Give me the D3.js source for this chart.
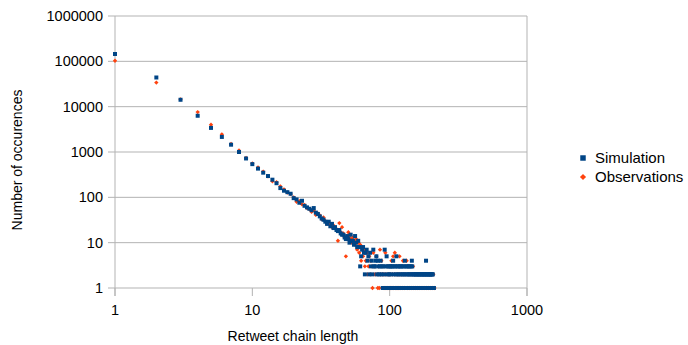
<!DOCTYPE html>
<html>
<head>
<meta charset="utf-8">
<script src="https://cdn.jsdelivr.net/npm/d3@7/dist/d3.min.js"></script>
<style>
  body { margin: 0; background: #fff; }
  svg text { font-family: "Liberation Sans", Arial, sans-serif; fill: #000; }
</style>
</head>
<body>
<svg id="chart" width="688" height="345"></svg>
<script>
// chain length -> number of occurences
const simLen = [
  1,2,3,4,5,6,7,8,9,10,11,12,13,14,15,16,17,18,19,20,
  21,22,23,24,25,26,27,28,29,30,31,32,33,34,35,36,37,38,39,40,
  41,42,43,44,45,46,47,48,49,50,51,52,53,54,55,56,57,58,59,60,
  61,62,63,64,65,66,67,68,69,70,71,72,73,74,75,76,77,78,79,80,
  81,82,83,84,85,86,87,88,89,90,91,92,93,94,95,96,97,98,99,100,
  101,102,103,104,105,106,107,108,109,110,111,112,113,114,115,116,117,118,119,120,
  121,122,123,124,125,126,127,128,129,130,131,132,133,134,135,136,137,138,139,140,
  141,142,143,144,145,146,147,148,149,150,151,152,153,154,155,156,157,158,159,160,
  161,162,163,164,165,166,167,168,169,170,171,172,173,174,175,176,177,178,179,180,
  181,182,183,184,185,186,187,188,189,190,191,192,193,194,195,196,197,198,199,200,
  201,202,203,204,205,206,207,208,210
];
const simCount = [
  145000,44000,14200,6300,3400,2150,1450,1000,720,540,430,350,295,245,205,160,140,130,120,96,
  90,76,84,65,60,56,52,58,46,43,38,34,32,29,26,29,23,26,21,22,
  19,18,19,16,15,15,13,12,14,12,10,15,11,11,9,14,10,8,11,8,
  3,5,7,8,6,2,6,7,4,5,2,6,3,4,2,7,3,3,4,5,
  2,4,3,2,3,4,2,3,1,3,2,7,1,3,5,2,3,1,2,3,
  3,2,3,1,3,4,2,3,1,3,2,5,1,3,2,3,1,2,3,1,
  3,2,1,3,2,1,3,2,4,1,3,2,1,3,2,1,3,2,1,3,
  2,1,3,2,4,3,1,2,1,2,1,2,1,1,2,1,2,1,2,1,
  1,2,1,2,1,2,1,1,2,1,2,1,2,1,1,2,1,2,1,2,
  1,2,1,4,2,1,2,1,1,2,1,2,1,2,1,1,2,1,2,1,
  2,1,1,2,1,2,1,1,1
];

const obsLen = [
  1,2,3,4,5,6,7,8,9,10,11,12,13,14,15,16,17,18,19,20,
  21,22,23,24,25,26,27,28,29,30,31,32,33,34,35,36,37,38,39,40,
  41,42,43,44,45,46,47,48,49,50,51,52,53,54,55,56,57,58,59,60,
  61,62,63,64,65,66,67,68,69,70,71,72,73,74,75,76,77,78,79,80,
  81,82,83,84,85,86,87,88,89,90,91,92,93,94,95,96,97,98,99,100,
  101,102,103,104,105,106,107,108,109,110,111,112,113,114,115,116,117,118,119,120,
  122,124,125,126,128,130,133,135,136,138,140,142,144,146,148,150,152,155,158,160,
  163,166,169,172,175,178,181,185,188,191,195,198,202,205,208,212
];
const obsCount = [
  103000,34000,14500,7600,4000,2450,1500,1080,740,560,455,370,290,225,215,175,150,128,118,100,
  80,82,70,68,58,55,48,52,41,44,40,33,36,30,26,28,25,22,24,21,
  20,11,27,17,22,16,13,5,12,17,14,12,10,13,11,9,12,7,10,6,
  9,4,8,5,7,3,4,6,2,3,5,2,4,3,1,6,2,3,2,5,
  2,1,3,1,7,2,4,2,3,2,1,2,6,1,2,3,1,2,1,2,
  1,2,4,1,2,5,1,2,6,1,2,3,1,2,1,2,1,5,2,1,
  2,1,4,2,1,2,4,1,3,2,1,2,1,2,3,1,2,1,2,1,
  2,1,2,1,2,1,2,1,2,1,2,1,2,1,2,1
];

const yTicks = [1, 10, 100, 1000, 10000, 100000, 1000000];
const xTicks = [1, 10, 100, 1000];
const seriesNames = ["Simulation", "Observations"];
const colors = ["#004586", "#ff420e"];

const svg = d3.select("#chart");
const plotLeft = 115, plotRight = 527, plotTop = 16, plotBottom = 288;

const x = d3.scaleLog().domain([1, 1000]).range([plotLeft, plotRight]);
const y = d3.scaleLog().domain([1, 1000000]).range([plotBottom, plotTop]);

// horizontal grid + y ticks
svg.append("g")
  .selectAll("line")
  .data(yTicks)
  .join("line")
    .attr("x1", plotLeft - 7)
    .attr("x2", plotRight)
    .attr("y1", d => y(d))
    .attr("y2", d => y(d))
    .attr("stroke", "#b3b3b3")
    .attr("stroke-width", 1);

// y axis line and right border
svg.append("line")
  .attr("x1", plotLeft).attr("x2", plotLeft)
  .attr("y1", plotTop).attr("y2", plotBottom + 8)
  .attr("stroke", "#b3b3b3");
svg.append("line")
  .attr("x1", plotRight).attr("x2", plotRight)
  .attr("y1", plotTop).attr("y2", plotBottom + 8)
  .attr("stroke", "#b3b3b3");

// x ticks
svg.append("g")
  .selectAll("line")
  .data(xTicks)
  .join("line")
    .attr("x1", d => x(d))
    .attr("x2", d => x(d))
    .attr("y1", plotBottom)
    .attr("y2", plotBottom + 8)
    .attr("stroke", "#b3b3b3");

svg.append("g")
  .selectAll("text")
  .data(yTicks)
  .join("text")
    .attr("x", plotLeft - 12)
    .attr("y", d => y(d))
    .attr("dy", "0.35em")
    .attr("text-anchor", "end")
    .style("font-size", "14.5px")
    .text(d3.format("d"));

svg.append("g")
  .selectAll("text")
  .data(xTicks)
  .join("text")
    .attr("x", d => x(d))
    .attr("y", 315)
    .attr("text-anchor", "middle")
    .style("font-size", "14.5px")
    .text(d3.format("d"));

svg.append("text")
  .attr("x", 293)
  .attr("y", 341)
  .attr("text-anchor", "middle")
  .style("font-size", "14px")
  .text("Retweet chain length");

svg.append("text")
  .attr("transform", "translate(22,160) rotate(-90)")
  .attr("text-anchor", "middle")
  .style("font-size", "14px")
  .text("Number of occurences");

// points: observations under, simulation on top
const diamond = d3.symbol().type(d3.symbolDiamond2).size(12);
const square = d3.symbol().type(d3.symbolSquare).size(16);

svg.append("g")
  .selectAll("path")
  .data(d3.zip(obsLen, obsCount))
  .join("path")
    .attr("d", diamond)
    .attr("transform", d => `translate(${x(d[0])},${y(d[1])})`)
    .attr("fill", colors[1]);

svg.append("g")
  .selectAll("path")
  .data(d3.zip(simLen, simCount))
  .join("path")
    .attr("d", square)
    .attr("transform", d => `translate(${x(d[0])},${y(d[1])})`)
    .attr("fill", colors[0]);

// legend
const legend = svg.append("g").attr("transform", "translate(583,158)");
legend.append("path")
  .attr("d", d3.symbol().type(d3.symbolSquare).size(30))
  .attr("fill", colors[0]);
legend.append("path")
  .attr("transform", "translate(0,19)")
  .attr("d", d3.symbol().type(d3.symbolDiamond2).size(24))
  .attr("fill", colors[1]);
legend.selectAll("text")
  .data(seriesNames)
  .join("text")
    .attr("x", 12)
    .attr("y", (d, i) => i * 19)
    .attr("dy", "0.35em")
    .style("font-size", "15px")
    .text(d => d);
</script>
</body>
</html>
